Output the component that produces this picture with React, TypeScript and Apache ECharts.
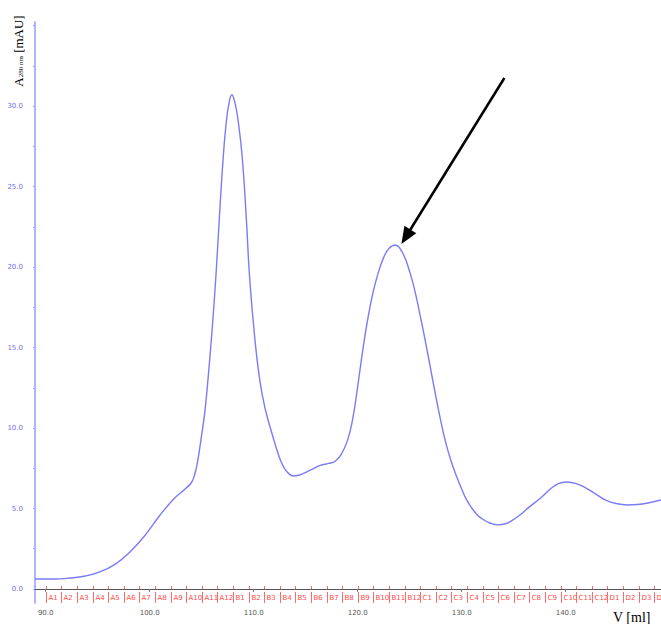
import React, { useEffect, useRef } from "react";
import * as echarts from "echarts";

const volume = [
  88.97, 90.9, 92.3, 93.8, 95.2, 96.7, 98.1, 99.5, 101.0, 102.4, 103.4, 104.0, 104.3, 104.6, 105.0,
  105.3, 105.6, 106.0, 106.4, 106.8, 107.1, 107.3, 107.6, 107.9, 108.2, 108.5, 108.9, 109.3, 109.6,
  110.1, 110.6, 111.1, 111.6, 112.2, 112.6, 113.0, 113.4, 113.8, 114.4, 115.1, 115.8, 116.4, 117.2,
  117.8, 118.4, 119.0, 119.5, 120.0, 120.5, 121.0, 121.5, 122.0, 122.5, 123.0, 123.6, 124.3, 125.0,
  125.5, 126.0, 126.5, 127.0, 127.5, 128.0, 128.5, 129.0, 129.5, 130.0, 130.5, 131.0, 131.5, 132.0,
  132.7, 133.5, 134.2, 134.7, 135.6, 136.5, 137.5, 138.5, 139.3, 140.1, 141.0, 142.0, 143.0, 143.9,
  144.9, 145.9, 146.9, 147.8, 149.2,
];
const absorbance = [
  0.62, 0.62, 0.68, 0.81, 1.06, 1.55, 2.3, 3.29, 4.6, 5.65, 6.21, 6.6, 7.05, 7.9, 9.6,
  11.0, 13.0, 16.1, 19.8, 24.2, 27.1, 28.6, 30.1, 30.7, 30.2, 29.1, 26.8, 22.9, 19.4,
  15.6, 12.9, 11.2, 10.0, 8.7, 7.95, 7.45, 7.15, 7.02, 7.08, 7.27, 7.5, 7.68, 7.8,
  7.92, 8.35, 9.2, 10.5, 12.6, 14.9, 16.9, 18.5, 19.7, 20.6, 21.15, 21.37, 20.9, 19.7,
  18.5, 17.0, 15.4, 13.7, 12.0, 10.4, 9.0, 7.9, 7.0, 6.2, 5.5, 5.0, 4.6, 4.35,
  4.1, 3.98, 4.05, 4.2, 4.6, 5.1, 5.6, 6.2, 6.55, 6.65, 6.55, 6.25, 5.85, 5.5,
  5.3, 5.22, 5.25, 5.33, 5.53,
];

const fractionStarts = [
  90, 91.5, 93, 94.5, 96, 97.5, 99, 100.5, 102, 103.5, 105, 106.5,
  108, 109.5, 111, 112.5, 114, 115.5, 117, 118.5, 120, 121.5, 123, 124.5,
  126, 127.5, 129, 130.5, 132, 133.5, 135, 136.5, 138, 139.5, 141, 142.5,
  144, 145.5, 147, 148.5,
];
const fractionLabels = [
  "A1", "A2", "A3", "A4", "A5", "A6", "A7", "A8", "A9", "A10", "A11", "A12",
  "B1", "B2", "B3", "B4", "B5", "B6", "B7", "B8", "B9", "B10", "B11", "B12",
  "C1", "C2", "C3", "C4", "C5", "C6", "C7", "C8", "C9", "C10", "C11", "C12",
  "D1", "D2", "D3", "D4",
];

const xTickValues = [90, 100, 110, 120, 130, 140];
const yLabelValues = [0, 5, 10, 15, 20, 25, 30];
const yTickValues = [0, 2.5, 5, 7.5, 10, 12.5, 15, 17.5, 20, 22.5, 25, 27.5, 30, 32.5, 35];

const arrowStart = [134.1, 31.74];
const arrowTip = [124.2, 21.43];

const X_MIN = 88.97;
const X_MAX = 149.16;
const Y_MIN = -0.87;
const Y_MAX = 35.22;

export default function App() {
  const ref = useRef<HTMLDivElement>(null);
  useEffect(() => {
    if (!ref.current) return;
    const chart = echarts.init(ref.current, null, { renderer: "svg" });
    const blue = "#7b7bf7";
    chart.setOption({
      animation: false,
      grid: { left: 35, right: 0, top: 22, bottom: 21 },
      xAxis: {
        type: "value",
        min: X_MIN,
        max: X_MAX,
        splitLine: { show: false },
        axisLine: { lineStyle: { color: "#555", width: 1 } },
        axisTick: { customValues: xTickValues, length: 3, lineStyle: { color: "#777" } },
        axisLabel: {
          customValues: xTickValues,
          formatter: (v: number) => v.toFixed(1),
          fontSize: 7,
          color: "#555",
          margin: 6,
          fontFamily: "DejaVu Sans",
        },
      },
      yAxis: {
        type: "value",
        min: Y_MIN,
        max: Y_MAX,
        splitLine: { show: false },
        axisLine: { show: true, lineStyle: { color: "#9a9aff", width: 1.5 } },
        axisTick: { show: true, customValues: yTickValues, length: 2, lineStyle: { color: "#9a9aff" } },
        axisLabel: {
          customValues: yLabelValues,
          formatter: (v: number) => v.toFixed(1),
          fontSize: 7,
          color: "#7070f0",
          margin: 12,
          fontFamily: "DejaVu Sans",
        },
      },
      series: [
        {
          type: "line",
          data: volume.map((v, i) => [v, absorbance[i]]),
          showSymbol: false,
          smooth: 0.45,
          lineStyle: { color: blue, width: 1.4 },
          z: 3,
        },
        {
          type: "custom",
          clip: true,
          data: fractionStarts.map((v, i) => [v, i]),
          renderItem: (params: any, api: any) => {
            const x = api.value(0);
            const idx = api.value(1);
            const p = api.coord([x, Y_MIN]);
            const px = Math.round(p[0]) + 0.5;
            const by = p[1];
            return {
              type: "group",
              children: [
                { type: "line", shape: { x1: px, y1: by, x2: px, y2: by - 11 }, style: { stroke: "#ff6a6a", lineWidth: 1 } },
                { type: "line", shape: { x1: px, y1: by - 14, x2: px, y2: by - 17 }, style: { stroke: "#ff6a6a", lineWidth: 1 } },
                {
                  type: "text",
                  x: px + 2,
                  y: by - 5,
                  style: {
                    text: fractionLabels[idx],
                    fill: "#ff4a4a",
                    fontSize: 7,
                    fontFamily: "DejaVu Sans",
                    align: "left",
                    verticalAlign: "middle",
                  },
                },
              ],
            };
          },
          z: 2,
        },
      ],
    });

    const p1 = chart.convertToPixel({ gridIndex: 0 }, arrowStart) as number[];
    const p2 = chart.convertToPixel({ gridIndex: 0 }, arrowTip) as number[];
    const dx = p2[0] - p1[0];
    const dy = p2[1] - p1[1];
    const len = Math.sqrt(dx * dx + dy * dy);
    const ux = dx / len;
    const uy = dy / len;
    const headLen = 17;
    const headHalf = 7;
    const bx = p2[0] - ux * headLen;
    const by = p2[1] - uy * headLen;
    const nx = -uy;
    const ny = ux;

    chart.setOption({
      graphic: [
        {
          type: "line",
          shape: { x1: p1[0], y1: p1[1], x2: bx + ux * 2, y2: by + uy * 2 },
          style: { stroke: "#000", lineWidth: 2.5 },
          z: 10,
        },
        {
          type: "polygon",
          shape: {
            points: [
              [p2[0], p2[1]],
              [bx + nx * headHalf, by + ny * headHalf],
              [bx - nx * headHalf, by - ny * headHalf],
            ],
          },
          style: { fill: "#000" },
          z: 10,
        },
        {
          type: "text",
          x: 18,
          y: 51,
          rotation: Math.PI / 2,
          style: {
            text: "{a|A}{s|280 nm}{a| [mAU]}",
            align: "center",
            verticalAlign: "middle",
            fill: "#000",
            rich: {
              a: { fontSize: 13, fontFamily: "Liberation Serif", fill: "#000" },
              s: { fontSize: 7, fontFamily: "Liberation Serif", fill: "#000", verticalAlign: "bottom", padding: [5, 0, 0, 0] },
            },
          },
          z: 10,
        },
        {
          type: "text",
          x: 613,
          y: 610,
          style: {
            text: "V [ml]",
            fontSize: 14,
            fontFamily: "Liberation Serif",
            fill: "#000",
            align: "left",
            verticalAlign: "top",
          },
          z: 10,
        },
      ],
    });

    return () => chart.dispose();
  }, []);
  return (
    <div
      ref={ref}
      style={{ position: "fixed", left: 0, top: 0, width: 661, height: 624, background: "#fff" }}
    />
  );
}
